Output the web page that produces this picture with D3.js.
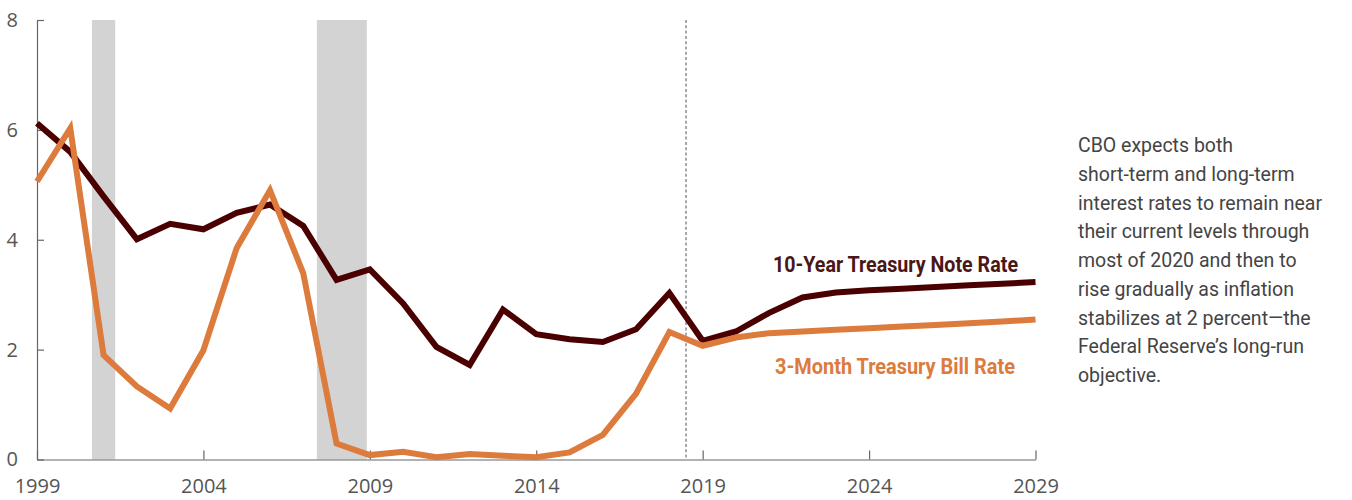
<!DOCTYPE html>
<html>
<head>
<meta charset="utf-8">
<script src="https://cdn.jsdelivr.net/npm/d3@7"></script>
<style>
  html, body { margin: 0; padding: 0; background: #fff; }
  svg { display: block; }
</style>
</head>
<body>
<svg id="chart" width="1352" height="500"></svg>
<script>
const years = [1999,2000,2001,2002,2003,2004,2005,2006,2007,2008,2009,2010,2011,2012,2013,2014,2015,2016,2017,2018,2019,2020,2021,2022,2023,2024,2025,2026,2027,2028,2029];
const tenYear = [6.12,5.60,4.79,4.01,4.29,4.19,4.49,4.64,4.25,3.27,3.46,2.84,2.05,1.72,2.73,2.28,2.19,2.14,2.37,3.03,2.16,2.33,2.67,2.95,3.04,3.08,3.11,3.14,3.17,3.20,3.23];
const threeMonth = [5.06,6.03,1.90,1.33,0.93,1.99,3.85,4.90,3.39,0.29,0.08,0.14,0.04,0.10,0.07,0.04,0.13,0.45,1.20,2.32,2.07,2.22,2.30,2.33,2.36,2.39,2.42,2.45,2.48,2.51,2.55];
const recessions = [[2000.65, 2001.35], [2007.41, 2008.91]];
const projectionStart = 2018.5;
const yTicks = [0, 2, 4, 6, 8];
const xTicks = [1999, 2004, 2009, 2014, 2019, 2024, 2029];
const seriesLabels = ["10-Year Treasury Note Rate", "3-Month Treasury Bill Rate"];
const noteLines = [
  "CBO expects both",
  "short-term and long-term",
  "interest rates to remain near",
  "their current levels through",
  "most of 2020 and then to",
  "rise gradually as inflation",
  "stabilizes at 2 percent\u2014the",
  "Federal Reserve\u2019s long-run",
  "objective."
];

const svg = d3.select("#chart");
const x = d3.scaleLinear().domain([1999, 2029]).range([37, 1035.5]);
const y = d3.scaleLinear().domain([0, 8]).range([459.5, 20]);

// recession bars
svg.append("g").selectAll("rect").data(recessions).join("rect")
  .attr("x", d => x(d[0]))
  .attr("width", d => x(d[1]) - x(d[0]))
  .attr("y", y(8))
  .attr("height", y(0) - y(8))
  .attr("fill", "#d3d3d3");

// projection divider
svg.append("line")
  .attr("x1", x(projectionStart)).attr("x2", x(projectionStart))
  .attr("y1", y(8)).attr("y2", y(0))
  .attr("stroke", "#7a7a7a").attr("stroke-width", 1.3)
  .attr("stroke-dasharray", "3,2.3");

// axes
const axisColor = "#666";
const gy = svg.append("g").attr("transform", `translate(${x(1999)},0)`)
  .call(d3.axisLeft(y).tickValues(yTicks).tickFormat(d3.format("d")).tickSizeInner(-7).tickSizeOuter(0).tickPadding(19));
const gx = svg.append("g").attr("transform", `translate(0,${y(0)})`)
  .call(d3.axisBottom(x).tickValues(xTicks).tickFormat(d3.format("d")).tickSizeInner(-9).tickSizeOuter(0).tickPadding(19));
[gy, gx].forEach(g => {
  g.select(".domain").attr("stroke", axisColor).attr("stroke-width", 1.2);
  g.selectAll(".tick line").attr("stroke", axisColor).attr("stroke-width", 1.2);
  g.selectAll(".tick text").attr("fill", "#555").style("font-family", "'Open Sans', sans-serif").style("font-size", "20px");
});
gy.selectAll(".tick text").attr("x", -19).attr("text-anchor", "end");

// lines
const line = arr => d3.line().x((d, i) => x(years[i])).y(d => y(d))(arr);
svg.append("path").attr("d", line(tenYear))
  .attr("fill", "none").attr("stroke", "#4a0000").attr("stroke-width", 6)
  .attr("stroke-linejoin", "miter").attr("stroke-miterlimit", 3);
svg.append("path").attr("d", line(threeMonth))
  .attr("fill", "none").attr("stroke", "#dc7b3c").attr("stroke-width", 6)
  .attr("stroke-linejoin", "miter").attr("stroke-miterlimit", 3);

// series labels
svg.append("text").text(seriesLabels[0])
  .attr("x", 773).attr("y", 272)
  .attr("textLength", 245).attr("lengthAdjust", "spacingAndGlyphs")
  .attr("fill", "#4a1616").style("font-family", "Roboto, sans-serif")
  .style("font-weight", "700").style("font-size", "22px");
svg.append("text").text(seriesLabels[1])
  .attr("x", 775).attr("y", 374)
  .attr("textLength", 240).attr("lengthAdjust", "spacingAndGlyphs")
  .attr("fill", "#dc7b3c").style("font-family", "Roboto, sans-serif")
  .style("font-weight", "700").style("font-size", "22px");

// note
const note = svg.append("text").attr("fill", "#444")
  .style("font-family", "Roboto, sans-serif").style("font-size", "19.5px");
note.selectAll("tspan").data(noteLines).join("tspan")
  .attr("x", 1078).attr("y", (d, i) => 152 + i * 28.75)
  .text(d => d);
</script>
</body>
</html>
